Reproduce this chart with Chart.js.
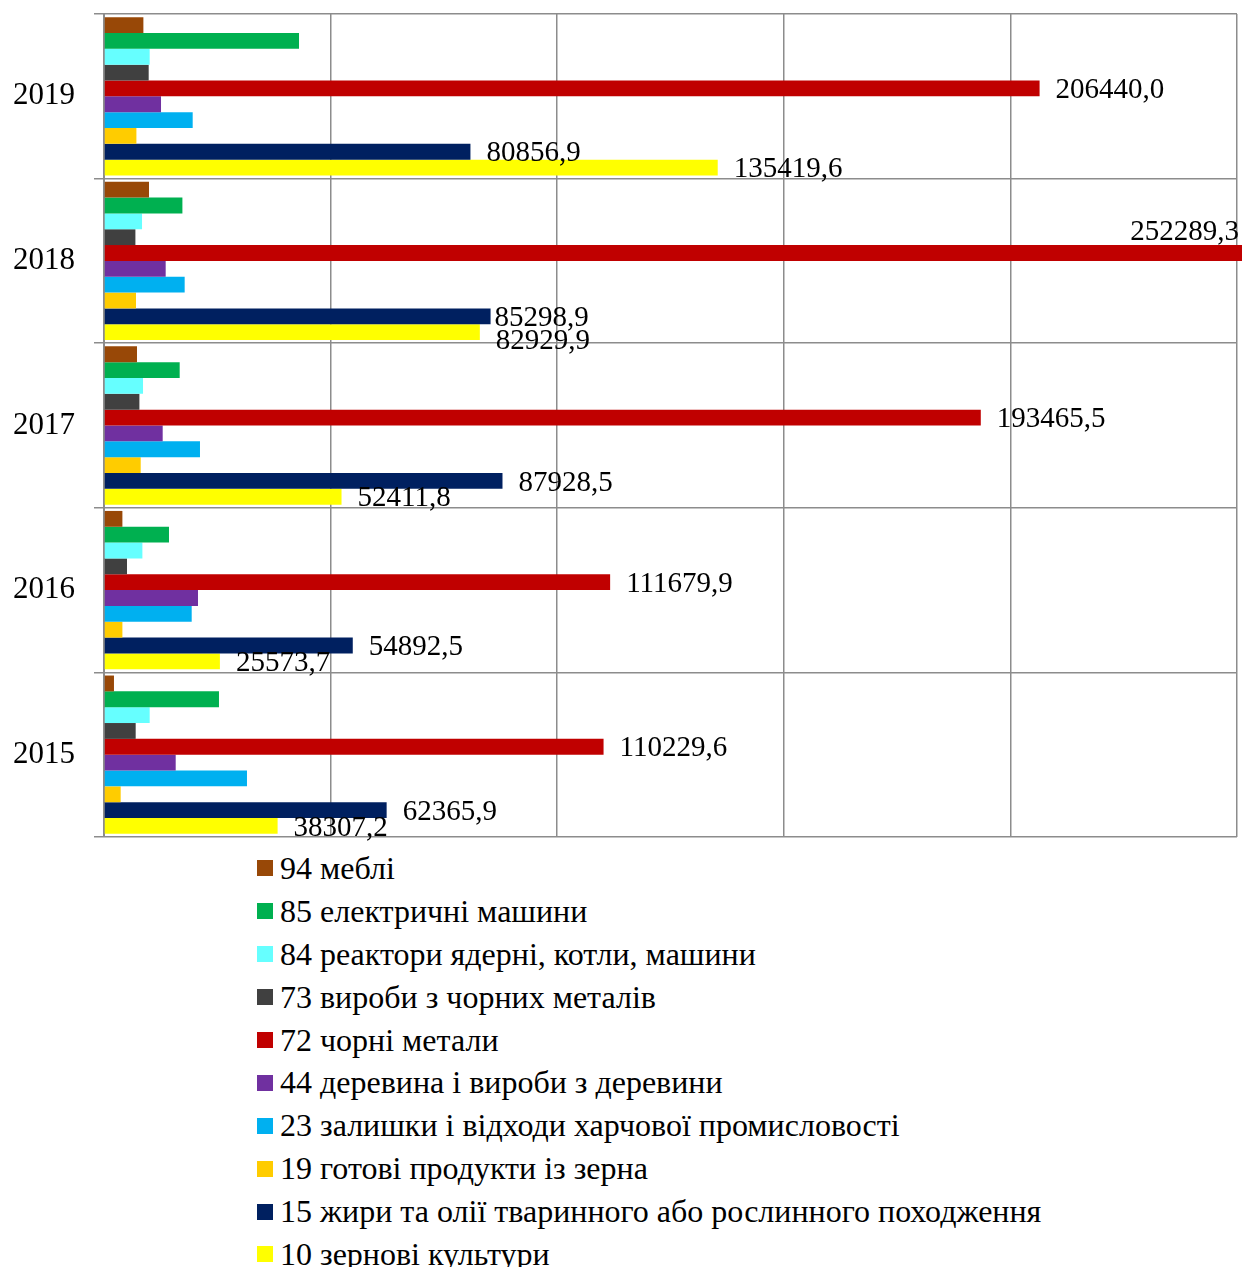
<!DOCTYPE html>
<html>
<head>
<meta charset="utf-8">
<script src="https://cdn.jsdelivr.net/npm/chart.js@4.4.1/dist/chart.umd.min.js"></script>
<style>
  html, body { margin: 0; padding: 0; background: #fff; overflow: hidden; }
  #wrap { position: relative; width: 1242px; height: 1267px; }
  #chartBox { position: absolute; left: 0; top: 0; width: 1242px; height: 846px; }
  #legend { position: absolute; left: 257px; top: 847px; font-family: 'Liberation Serif', 'Times New Roman', serif; font-size: 32px; color: #000; }
  .item { height: 42.9px; line-height: 42.9px; white-space: nowrap; display: flex; align-items: center; }
  .box { width: 16px; height: 16px; margin-right: 7px; flex: none; }
</style>
</head>
<body>
<div id="wrap">
  <div id="chartBox"><canvas id="myChart" width="1242" height="846"></canvas></div>
  <div id="legend"></div>
</div>
<script>
// роки (зверху вниз)
var years = ['2019', '2018', '2017', '2016', '2015'];

var seriesNames = [
  '94 меблі',
  '85 електричні машини',
  '84 реактори ядерні, котли, машини',
  '73 вироби з чорних металів',
  '72 чорні метали',
  '44 деревина і вироби з деревини',
  '23 залишки і відходи харчової промисловості',
  '19 готові продукти із зерна',
  '15 жири та олії тваринного або рослинного походження',
  '10 зернові культури'
];
var colors = ['#984807', '#00B050', '#66FFFF', '#404040', '#C00000', '#7030A0', '#00B0F0', '#FFCC00', '#002060', '#FFFF00'];

// значення, порядок як у years
var v94 = [8690, 9930, 7280, 4060, 2200];
var v85 = [43030, 17300, 16700, 14340, 25370];
var v84 = [10080, 8390, 8610, 8470, 10080];
var v73 = [9860, 6930, 7810, 5080, 6990];
var v72 = [206440.0, 252289.3, 193465.5, 111679.9, 110229.6];
var v44 = [12580, 13610, 12950, 20740, 15820];
var v23 = [19570, 17800, 21180, 19350, 31550];
var v19 = [7150, 7060, 8100, 4060, 3680];
var v15 = [80856.9, 85298.9, 87928.5, 54892.5, 62365.9];
var v10 = [135419.6, 82929.9, 52411.8, 25573.7, 38307.2];

var allValues = [v94, v85, v84, v73, v72, v44, v23, v19, v15, v10];
// серії з підписами значень
var labelled = [4, 8, 9];

var serif = "'Liberation Serif', 'Times New Roman', serif";
Chart.defaults.font.family = serif;
Chart.defaults.color = '#000';

var datasets = [];
for (var i = 0; i < seriesNames.length; i++) {
  datasets.push({
    label: seriesNames[i],
    data: allValues[i],
    backgroundColor: colors[i],
    borderWidth: 0,
    barPercentage: 1.0,
    categoryPercentage: 0.962,
    clip: false
  });
}

var valueLabels = {
  id: 'valueLabels',
  afterDatasetsDraw: function (chart) {
    var ctx = chart.ctx;
    var area = chart.chartArea;
    ctx.save();
    ctx.font = '29px ' + serif;
    ctx.fillStyle = '#000';
    ctx.textBaseline = 'middle';
    labelled.forEach(function (d) {
      var meta = chart.getDatasetMeta(d);
      meta.data.forEach(function (bar, j) {
        var txt = allValues[d][j].toFixed(1).replace('.', ',');
        var dx = 16, dy = 2;
        // якщо підписи двох нижніх серій налазять, розсуваємо їх
        if (d >= 8) {
          var other = chart.getDatasetMeta(d === 8 ? 9 : 8).data[j];
          if (Math.abs(other.x - bar.x) < 30) {
            if (d === 8) dx = 4; else dy = 9;
          }
        }
        if (bar.x > area.right) {
          ctx.textAlign = 'right';
          ctx.fillText(txt, chart.width - 3, bar.y - 21);
        } else {
          ctx.textAlign = 'left';
          ctx.fillText(txt, bar.x + dx, bar.y + dy);
        }
      });
    });
    ctx.restore();
  }
};

var ctx = document.getElementById('myChart').getContext('2d');
var myChart = new Chart(ctx, {
  type: 'bar',
  data: { labels: years, datasets: datasets },
  plugins: [valueLabels],
  options: {
    indexAxis: 'y',
    responsive: false,
    animation: false,
    layout: { padding: { top: 14, right: 5, bottom: 9, left: 0 } },
    plugins: {
      legend: { display: false },
      tooltip: { enabled: false }
    },
    scales: {
      x: {
        min: 0,
        max: 250000,
        ticks: { display: false, stepSize: 50000 },
        grid: { color: '#8c8c8c', lineWidth: 1.5, drawTicks: false },
        border: { display: false },
        afterFit: function (s) { s.height = 0; s.paddingLeft = 0; s.paddingRight = 0; }
      },
      y: {
        ticks: { font: { size: 31 }, padding: 19, color: '#000' },
        grid: { color: '#8c8c8c', lineWidth: 1.5, tickLength: 10, offset: true },
        border: { color: '#8c8c8c', width: 2 },
        afterFit: function (s) { s.width = 104; s.paddingTop = 0; s.paddingBottom = 0; }
      }
    }
  }
});

// легенда в один стовпчик
var legend = document.getElementById('legend');
for (var k = 0; k < seriesNames.length; k++) {
  var row = document.createElement('div');
  row.className = 'item';
  var box = document.createElement('span');
  box.className = 'box';
  box.style.background = colors[k];
  var t = document.createElement('span');
  t.textContent = seriesNames[k];
  row.appendChild(box);
  row.appendChild(t);
  legend.appendChild(row);
}
</script>
</body>
</html>
